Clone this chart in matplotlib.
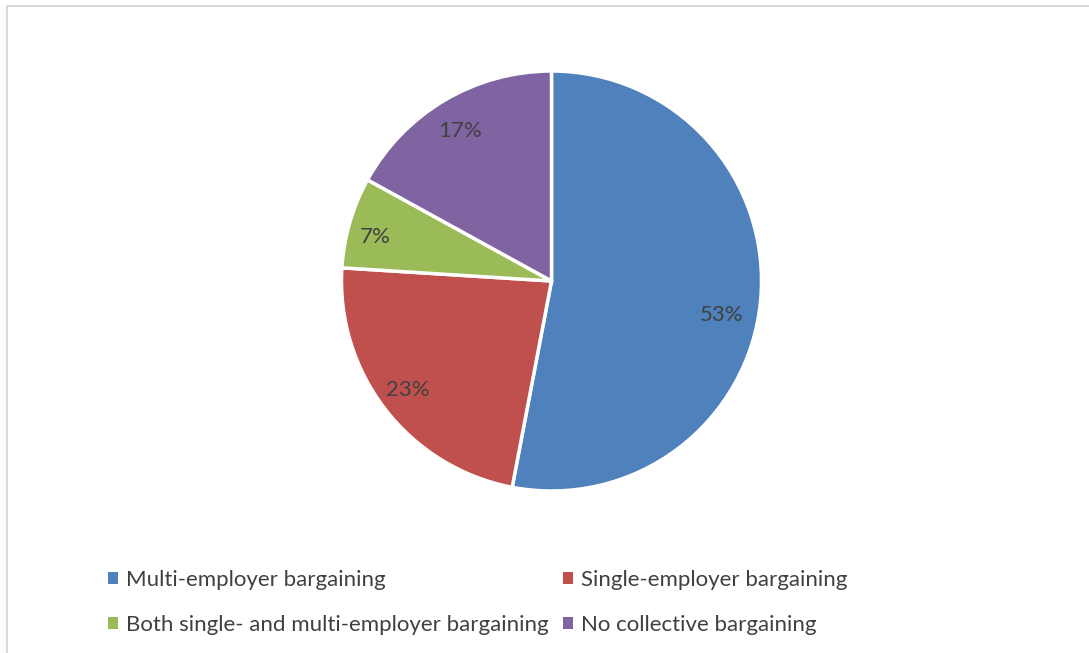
import matplotlib
matplotlib.use('Agg')
import matplotlib.pyplot as plt
from matplotlib.lines import Line2D
from matplotlib.patches import Patch

labels = ['Multi-employer bargaining', 'Single-employer bargaining',
          'Both single- and multi-employer bargaining', 'No collective bargaining']
shares = [53, 23, 7, 17]
colors = ['#4F81BD', '#C0504D', '#9BBB59', '#8064A2']

plt.rcParams['font.family'] = ['Lato', 'DejaVu Sans']

W, H = 1089, 653
fig = plt.figure(figsize=(W / 100, H / 100), dpi=100)

# frame lines (only top/left visible in the crop)
fig.add_artist(Line2D([7 / W, 7 / W], [0, 1 - 6 / H], color='#D9D9D9', lw=1.5))
fig.add_artist(Line2D([7 / W, 1], [1 - 6 / H, 1 - 6 / H], color='#D9D9D9', lw=1.5))

cx, cy, r = 551.5, 281, 210
ax = fig.add_axes([(cx - r) / W, (H - cy - r) / H, 2 * r / W, 2 * r / H])
wedges, texts, autotexts = ax.pie(shares, colors=colors, startangle=90, counterclock=False,
                                  autopct=lambda p: '%d%%' % round(p), pctdistance=0.84,
                                  wedgeprops=dict(edgecolor='white', linewidth=2.5),
                                  textprops=dict(color='#404040', fontsize=16))
# small nudges so labels sit where Excel put them (pixels -> radius units)
nudges = [(-6, 17), (-4, 1), (-7, 5), (-2, 2)]
for t, (dx, dy) in zip(autotexts, nudges):
    x, y = t.get_position()
    t.set_position((x + dx / r, y - dy / r))
ax.set_xlim(-1, 1)
ax.set_ylim(-1, 1)
ax.set_aspect('equal')
ax.axis('off')

# legend fills columns first
order = [0, 2, 1, 3]
handles = [Patch(facecolor=colors[i], edgecolor='none') for i in order]
fig.legend(handles, [labels[i] for i in order], ncol=2, frameon=False,
           loc='center', bbox_to_anchor=(478 / W, 1 - 602.5 / H),
           fontsize=16, labelcolor='#404040', handlelength=0.45, handleheight=0.45,
           handletextpad=0.35, columnspacing=0.65, labelspacing=1.15)

fig.savefig('out.png', dpi=100)
